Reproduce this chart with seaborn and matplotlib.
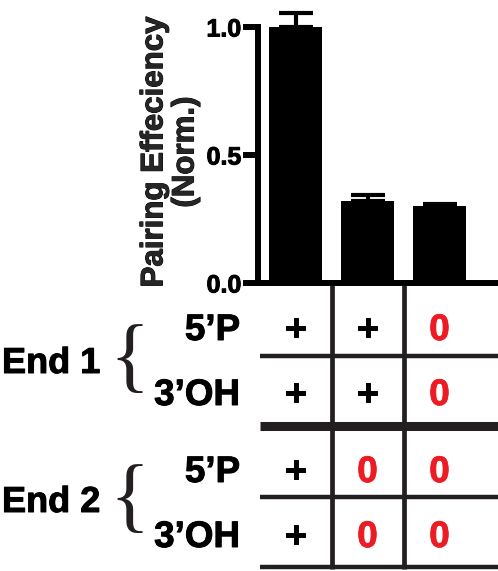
import matplotlib
matplotlib.use('Agg')
import matplotlib.pyplot as plt
import matplotlib.transforms as mtransforms
import matplotlib.patheffects as pe
import seaborn as sns
import pandas as pd
import numpy as np

# ---------------- data ----------------
conditions = ['Intact', 'End 2 dephos.', 'Both dephos.']
efficiency = [1.00, 0.32, 0.30]
error_up = [0.055, 0.022, 0.008]
tick_values = [0.0, 0.5, 1.0]
tick_labels = ['0.0', '0.5', '1.0']
y_label = 'Pairing Effeciency\n(Norm.)'
row_labels = ['5\u2019P', '3\u2019OH', '5\u2019P', '3\u2019OH']
group_labels = ['End 1', 'End 2']
end1_5p = ['+', '+', '0']
end1_3oh = ['+', '+', '0']
end2_5p = ['+', '0', '0']
end2_3oh = ['+', '0', '0']
table_rows = [end1_5p, end1_3oh, end2_5p, end2_3oh]

# ---------------- style ----------------
sns.set_style('ticks')
plt.rcParams['font.family'] = ['Liberation Sans', 'DejaVu Sans']
plt.rcParams['font.weight'] = 'bold'

W, H = 498, 571
fig = plt.figure(figsize=(W / 100, H / 100), dpi=100)


def fx(px):
    return px / W


def fy(py):
    return 1 - py / H


INK = '#231F20'
RED = '#ED1C24'


def heavy(color):
    return [pe.withStroke(linewidth=0.7, foreground=color)]


ax = fig.add_axes([fx(258), fy(283), fx(240), 256 / H])
df = pd.DataFrame({'cond': conditions, 'eff': efficiency})
sns.barplot(data=df, x='cond', y='eff', color='black', saturation=1,
            width=53 / 72, errorbar=None, ax=ax, linewidth=0)
ax.errorbar(np.arange(len(conditions)), efficiency,
            yerr=[np.zeros(len(error_up)), error_up], fmt='none',
            ecolor='black', elinewidth=3, capsize=12, capthick=3,
            clip_on=False, zorder=1)
for b in ax.patches:
    b.set_zorder(2)

ax.set_xlim(-0.521, 2.8125)
ax.set_ylim(0, 1.0)
ax.set_yticks(tick_values)
ax.set_yticklabels(tick_labels, fontsize=18, fontweight='bold')
for t in ax.get_yticklabels():
    t.set_path_effects(heavy('black'))
ax.set_xticks([])
ax.set_xlabel('')
ax.set_ylabel(y_label, fontsize=22.5, fontweight='bold', ha='center',
              va='center', linespacing=1.05)
ax.yaxis.label.set_path_effects(heavy('black'))
ax.yaxis.set_label_coords((170 - 258) / 240, (283 - 152) / 256)
for s in ['top', 'right']:
    ax.spines[s].set_visible(False)
for s in ['left', 'bottom']:
    ax.spines[s].set_linewidth(4.3)
    ax.spines[s].set_color('black')
ax.tick_params(axis='y', length=11, width=4.3, direction='out', pad=1,
               color='black', labelcolor='black')
ax.patch.set_alpha(0)

# ---------------- condition table ----------------
trans = mtransforms.blended_transform_factory(ax.transData, fig.transFigure)
x0, x1 = ax.get_xlim()
x_left = x0 + 2 / 72
for py, lw in [(356, 3.2), (426, 6.5), (497, 3.2), (567, 3.2)]:
    ax.plot([x_left, x1], [fy(py), fy(py)], transform=trans, clip_on=False,
            color=INK, lw=lw, solid_capstyle='butt')
for xv in [0.5, 1.5]:
    ax.plot([xv, xv], [fy(283), fy(569)], transform=trans, clip_on=False,
            color=INK, lw=3.4, solid_capstyle='butt')

baselines = [340, 405, 482, 547]
for r, (marks, base) in enumerate(zip(table_rows, baselines)):
    fig.text(fx(240), fy(base), row_labels[r], ha='right', va='baseline',
             fontsize=26.5, fontweight='bold', color='black',
             path_effects=heavy('black'))
    for i, m in enumerate(marks):
        c = RED if m == '0' else 'black'
        ax.text(i, fy(base), m, transform=trans, ha='center', va='baseline',
                fontsize=26.5, fontweight='bold', color=c, clip_on=False,
                path_effects=heavy(c))

for g, (lab, base, brace_base) in enumerate(zip(group_labels, [373, 512],
                                                  [382, 522])):
    fig.text(fx(2), fy(base), lab, ha='left', va='baseline', fontsize=26,
             fontweight='bold', color='black', path_effects=heavy('black'))
    fig.text(fx(109), fy(brace_base), '{', ha='left', va='baseline',
             fontsize=60, fontweight='normal', color=INK,
             family=['Liberation Serif', 'DejaVu Serif'])

fig.savefig('out.png', dpi=100)
